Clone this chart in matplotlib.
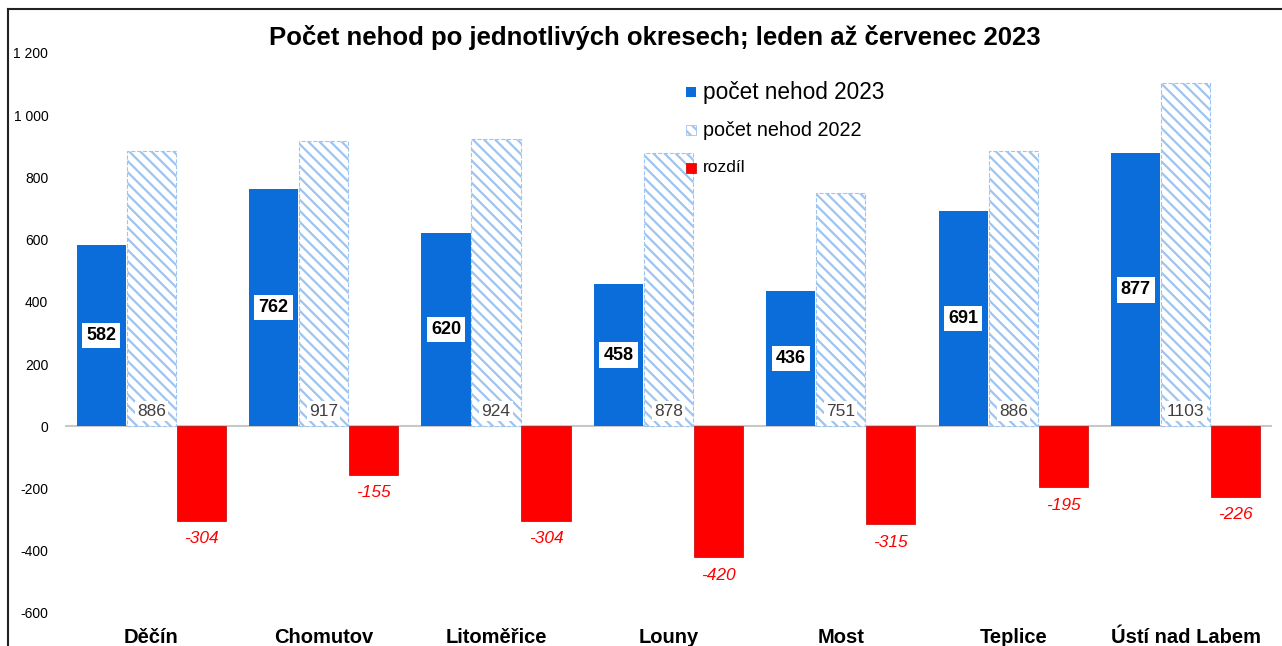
import matplotlib.pyplot as plt
import numpy as np
from matplotlib.patches import Rectangle
from matplotlib.lines import Line2D

plt.rcParams['font.family'] = ['Liberation Sans', 'DejaVu Sans']
plt.rcParams['hatch.linewidth'] = 1.6

# Data
okresy = ['Děčín', 'Chomutov', 'Litoměřice', 'Louny', 'Most', 'Teplice', 'Ústí nad Labem']
nehody_2023 = [582, 762, 620, 458, 436, 691, 877]
nehody_2022 = [886, 917, 924, 878, 751, 886, 1103]
rozdil = [-304, -155, -304, -420, -315, -195, -226]
legend_labels = ['počet nehod 2023', 'počet nehod 2022', 'rozdíl']

blue = '#0a6dd9'
hatch_col = '#9ec4f0'
red = '#ff0000'

W, H = 1282, 646
fig = plt.figure(figsize=(W / 100, H / 100), dpi=100)
ax = fig.add_axes([0.0507, 0.0511, 0.9414, 0.867])

x = np.arange(len(okresy))
w = 0.285
off = 0.29

ax.bar(x - off, nehody_2023, w, color=blue, zorder=2)
ax.bar(x, nehody_2022, w, color='white', edgecolor=hatch_col, hatch='\\\\\\',
       linewidth=0.8, linestyle='--', zorder=2)
ax.bar(x + off, rozdil, w, color=red, edgecolor='#c00000', linewidth=0.5, zorder=2)

ax.axhline(0, color='#c8c8c8', linewidth=1.5, zorder=1)

# Data labels
for xi, v in zip(x, nehody_2023):
    ax.text(xi - off, v / 2, str(v), ha='center', va='center', fontsize=13,
            fontweight='bold', color='black', zorder=4,
            bbox=dict(facecolor='white', edgecolor='none', pad=3))
for xi, v in zip(x, nehody_2022):
    ax.annotate(str(v), (xi, 0), xytext=(0, 11), textcoords='offset points',
                ha='center', va='center', fontsize=12.5, color='#404040', zorder=4,
                bbox=dict(facecolor='white', edgecolor='none', pad=1.5))
for xi, v in zip(x, rozdil):
    ax.annotate(str(v), (xi + off, v), xytext=(0, -13), textcoords='offset points',
                ha='center', va='center', fontsize=12.5, color=red, style='italic', zorder=4)

ax.set_xlim(-0.5, 6.5)
ax.set_ylim(-600, 1200)
ax.set_yticks(np.arange(-600, 1201, 200))
ax.set_yticklabels([f'{t:,}'.replace(',', ' ') for t in range(-600, 1201, 200)], fontsize=10)
ax.tick_params(axis='y', length=0, pad=12)
ax.set_xticks(x)
ax.set_xticklabels(okresy, fontsize=14.5, fontweight='bold')
ax.tick_params(axis='x', length=0, pad=11)
for s in ax.spines.values():
    s.set_visible(False)

fig.text(655 / W, 1 - 38 / H, 'Počet nehod po jednotlivých okresech; leden až červenec 2023',
         fontsize=18.5, fontweight='bold', ha='center', va='center')

# Legend (placed by hand, each entry has its own text size)
leg_y = [92, 130, 168]
leg_size = [16.3, 14.2, 12.5]
leg_patch = [dict(facecolor=blue, edgecolor='none'),
             dict(facecolor='white', edgecolor=hatch_col, hatch='\\\\\\', linewidth=0.6),
             dict(facecolor=red, edgecolor='#c00000', linewidth=0.5)]
for y, s, kw, lab in zip(leg_y, leg_size, leg_patch, legend_labels):
    fig.add_artist(Rectangle((686 / W, 1 - (y + 5) / H), 10 / W, 10 / H,
                             transform=fig.transFigure, **kw))
    fig.text(703 / W, 1 - y / H, lab, fontsize=s, ha='left', va='center')

# Chart frame (top and left)
fig.add_artist(Line2D([0.0062, 1.0], [0.986, 0.986], color='#222222', linewidth=1.5,
                      transform=fig.transFigure))
fig.add_artist(Line2D([0.0062, 0.0062], [0.0, 0.986], color='#222222', linewidth=1.5,
                      transform=fig.transFigure))

plt.savefig('out.png', dpi=100)
